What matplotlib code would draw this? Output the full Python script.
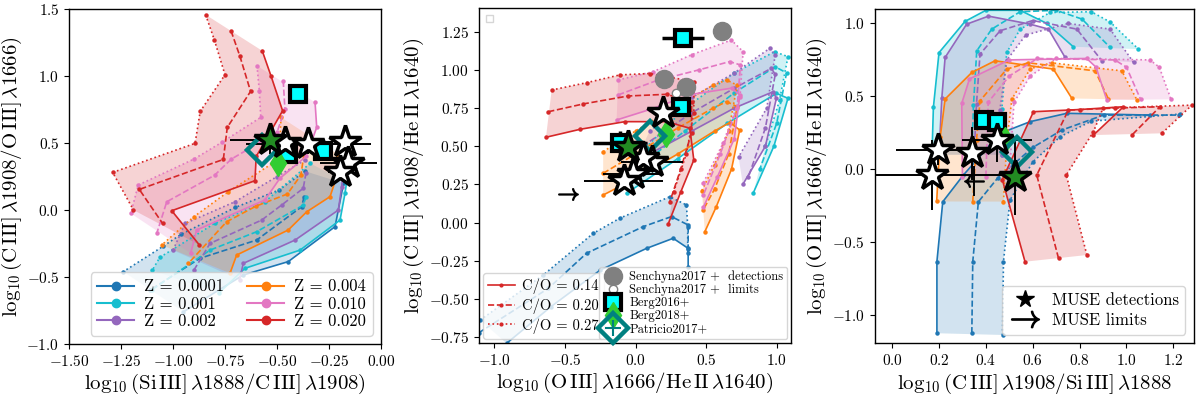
import matplotlib
matplotlib.use('Agg')
import matplotlib.pyplot as plt
from matplotlib.lines import Line2D
from matplotlib.ticker import FuncFormatter, MultipleLocator
import numpy as np

plt.rcParams['mathtext.fontset'] = 'cm'
plt.rcParams['font.family'] = 'serif'
plt.rcParams['font.serif'] = ['DejaVu Serif']

# ---------------- metadata ----------------
Z_LABELS = ['0.0001', '0.001', '0.002', '0.004', '0.010', '0.020']
Z_COLORS = ['tab:blue', 'tab:cyan', 'tab:purple', 'tab:orange', 'tab:pink', 'tab:red']
CO_LABELS = ['0.14', '0.20', '0.27']
CO_STYLES = ['-', '--', ':']

# ---------------- panel 1 model grids: x=SiIII/CIII, y=CIII/OIII ----------------
P1_Z0001 = {'solid': [(-0.18, 0.20), (-0.221, -0.124), (-0.446, -0.385), (-0.662, -0.485), (-0.95, -0.76)],
            'dashed': [(-0.37, 0.10), (-0.381, 0.025), (-0.598, -0.224), (-0.87, -0.36), (-1.11, -0.597)],
            'dotted': [(-0.365, 0.29), (-0.49, 0.15), (-0.70, 0.02), (-0.96, -0.18), (-1.047, -0.27), (-1.239, -0.46)]}
P1_Z001 = {'solid': [(-0.165, 0.21), (-0.173, 0.125), (-0.197, -0.075), (-0.389, -0.299), (-0.654, -0.435), (-0.78, -0.62)],
           'dashed': [(-0.36, 0.10), (-0.374, 0.037), (-0.598, -0.162), (-0.822, -0.299), (-1.103, -0.597)],
           'dotted': [(-0.341, 0.348), (-0.558, 0.062), (-0.80, -0.10), (-1.063, -0.353), (-1.10, -0.45)]}
P1_Z002 = {'solid': [(-0.18, 0.33), (-0.189, 0.174), (-0.205, 0.0), (-0.413, -0.224), (-0.662, -0.398), (-0.68, -0.52)],
           'dashed': [(-0.36, 0.28), (-0.374, 0.162), (-0.478, 0.037), (-0.574, -0.075), (-0.822, -0.249), (-0.90, -0.45)],
           'dotted': [(-0.365, 0.373), (-0.50, 0.25), (-0.702, 0.062), (-0.942, -0.10), (-1.00, -0.30)]}
P1_Z004 = {'solid': [(-0.21, 0.42), (-0.213, 0.249), (-0.245, 0.10), (-0.357, -0.013), (-0.446, -0.149), (-0.694, -0.336), (-0.726, -0.472)],
           'dashed': [(-0.37, 0.42), (-0.385, 0.261), (-0.45, 0.12), (-0.60, 0.03), (-0.742, -0.087), (-0.926, -0.398)],
           'dotted': [(-0.481, 0.692), (-0.486, 0.505), (-0.52, 0.35), (-0.734, 0.137), (-0.90, -0.05), (-1.054, -0.261)]}
P1_Z010 = {'solid': [(-0.317, 0.804), (-0.309, 0.617), (-0.36, 0.40), (-0.486, 0.237), (-0.558, 0.075), (-0.886, -0.149), (-0.915, -0.323)],
           'dashed': [(-0.47, 0.965), (-0.462, 0.754), (-0.50, 0.58), (-0.72, 0.38), (-0.80, 0.26), (-1.03, 0.062), (-1.078, -0.174)],
           'dotted': [(-0.596, 1.077), (-0.585, 0.890), (-0.578, 0.692), (-0.766, 0.505), (-0.90, 0.38), (-1.167, 0.187), (-1.203, -0.025)]}
P1_Z020 = {'solid': [(-0.571, 1.189), (-0.529, 1.002), (-0.473, 0.741), (-0.60, 0.40), (-0.606, 0.219), (-1.006, -0.005), (-0.873, -0.261)],
           'dashed': [(-0.721, 1.338), (-0.678, 1.147), (-0.627, 0.886), (-0.739, 0.617), (-0.758, 0.378), (-1.162, 0.154), (-1.05, -0.10)],
           'dotted': [(-0.843, 1.458), (-0.801, 1.269), (-0.75, 1.010), (-0.869, 0.737), (-0.894, 0.498), (-1.290, 0.281), (-1.19, 0.0)]}

# ---------------- panel 2 model grids: x=OIII/HeII, y=CIII/HeII ----------------
P2_Z0001 = {'solid': [(-0.913, -0.789), (-0.60, -0.55), (-0.25, -0.31), (0.078, -0.168), (0.267, -0.102), (0.373, -0.168), (0.373, -0.29)],
            'dashed': [(-1.11, -0.72), (-0.618, -0.43), (-0.347, -0.20), (0.054, -0.026), (0.255, 0.04), (0.373, -0.015), (0.373, -0.17)],
            'dotted': [(-1.10, -0.637), (-0.653, -0.342), (-0.30, -0.07), (-0.11, 0.03), (0.243, 0.17), (0.361, 0.116), (0.37, -0.03), (0.37, -0.20)]}
P2_Z001 = {'solid': [(-0.063, 0.192), (0.30, 0.42), (0.65, 0.65), (0.998, 0.846), (1.08, 0.814), (0.98, 0.50), (0.833, 0.192)],
           'dashed': [(0.0, 0.35), (0.35, 0.60), (0.70, 0.85), (0.99, 1.02), (1.07, 0.98), (1.00, 0.65), (0.88, 0.35)],
           'dotted': [(0.05, 0.47), (0.35, 0.75), (0.70, 0.98), (0.986, 1.119), (1.08, 1.086), (1.02, 0.80), (0.92, 0.50)]}
P2_Z002 = {'solid': [(0.0, 0.40), (0.40, 0.60), (0.70, 0.75), (0.975, 0.857), (0.998, 0.814), (0.92, 0.50), (0.76, 0.25)],
           'dashed': [(0.05, 0.50), (0.40, 0.72), (0.70, 0.88), (0.962, 1.01), (0.99, 0.97), (0.92, 0.62), (0.80, 0.30)],
           'dotted': [(0.10, 0.60), (0.40, 0.82), (0.70, 0.98), (0.95, 1.14), (0.99, 1.10), (0.93, 0.75), (0.73, 0.43)]}
P2_Z004 = {'solid': [(-0.229, 0.181), (0.0, 0.29), (0.30, 0.45), (0.56, 0.60), (0.668, 0.655), (0.738, 0.607), (0.68, 0.35), (0.57, 0.10), (0.491, -0.059)],
           'dashed': [(-0.229, 0.323), (0.0, 0.45), (0.30, 0.62), (0.55, 0.75), (0.645, 0.792), (0.72, 0.76), (0.66, 0.45), (0.56, 0.22), (0.479, 0.083)],
           'dotted': [(-0.229, 0.465), (0.0, 0.60), (0.30, 0.77), (0.55, 0.90), (0.645, 0.934), (0.72, 0.90), (0.66, 0.60), (0.56, 0.38), (0.47, 0.21)]}
P2_Z010 = {'solid': [(-0.134, 0.672), (0.10, 0.74), (0.40, 0.84), (0.68, 0.88), (0.739, 0.836), (0.70, 0.55), (0.58, 0.30), (0.48, 0.10)],
           'dashed': [(-0.123, 0.836), (0.15, 0.93), (0.45, 1.00), (0.667, 1.054), (0.743, 1.032), (0.72, 0.75), (0.60, 0.45), (0.48, 0.18)],
           'dotted': [(-0.123, 0.934), (0.125, 0.988), (0.40, 1.10), (0.679, 1.195), (0.762, 1.119), (0.74, 0.82), (0.62, 0.52), (0.48, 0.26)]}
P2_Z020 = {'solid': [(-0.634, 0.559), (-0.393, 0.611), (-0.075, 0.661), (0.22, 0.661), (0.385, 0.618), (0.413, 0.41), (0.32, 0.20), (0.231, -0.01)],
           'dashed': [(-0.618, 0.726), (-0.37, 0.777), (-0.052, 0.829), (0.22, 0.84), (0.397, 0.792), (0.397, 0.59), (0.32, 0.35), (0.243, 0.137)],
           'dotted': [(-0.594, 0.868), (-0.346, 0.916), (-0.11, 0.967), (0.10, 0.976), (0.413, 0.923), (0.413, 0.716), (0.36, 0.45), (0.27, 0.20)]}

# ---------------- panel 3 model grids: x=CIII/SiIII, y=OIII/HeII ----------------
P3_Z0001 = {'solid': [(0.191, -1.123), (0.191, -0.632), (0.216, -0.222), (0.304, -0.039), (0.461, 0.247), (0.589, 0.327), (0.745, 0.384), (1.10, 0.372)],
            'dashed': [(0.34, -1.123), (0.344, -0.632), (0.368, -0.222), (0.45, -0.06), (0.60, 0.15), (0.724, 0.269), (0.902, 0.372), (1.222, 0.372)],
            'dotted': [(0.471, -1.135), (0.475, -0.632), (0.503, -0.21), (0.60, 0.05), (0.717, 0.224), (0.85, 0.33), (1.229, 0.379)]}
P3_Z001 = {'solid': [(0.17, 0.10), (0.176, 0.425), (0.20, 0.80), (0.311, 1.014), (0.40, 1.09), (0.546, 1.09), (0.66, 1.0), (0.773, 0.84)],
           'dashed': [(0.34, 0.10), (0.347, 0.44), (0.361, 0.812), (0.425, 0.961), (0.546, 1.08), (0.70, 1.09), (0.81, 1.03), (0.93, 0.836)],
           'dotted': [(0.47, 0.10), (0.468, 0.413), (0.489, 0.801), (0.546, 0.96), (0.674, 1.075), (0.85, 1.08), (0.93, 1.01), (1.051, 0.824)]}
P3_Z002 = {'solid': [(0.20, 0.10), (0.212, 0.49), (0.226, 0.767), (0.318, 0.995), (0.411, 1.05), (0.589, 0.995), (0.667, 0.961), (0.738, 0.767)],
           'dashed': [(0.35, 0.10), (0.36, 0.45), (0.375, 0.79), (0.461, 0.95), (0.60, 1.02), (0.788, 0.961), (0.895, 0.744)],
           'dotted': [(0.47, 0.10), (0.46, 0.41), (0.49, 0.75), (0.57, 0.92), (0.75, 1.00), (0.93, 0.961), (1.03, 0.733)]}
P3_Z004 = {'solid': [(0.19, -0.22), (0.205, 0.22), (0.226, 0.482), (0.34, 0.664), (0.439, 0.744), (0.688, 0.687), (0.767, 0.486)],
           'dashed': [(0.344, -0.221), (0.36, 0.20), (0.375, 0.47), (0.489, 0.687), (0.58, 0.73), (0.866, 0.675), (0.923, 0.482)],
           'dotted': [(0.475, -0.221), (0.49, 0.20), (0.511, 0.482), (0.59, 0.69), (0.68, 0.73), (0.98, 0.675), (1.044, 0.477)]}
P3_Z010 = {'solid': [(0.30, -0.05), (0.297, 0.452), (0.33, 0.62), (0.50, 0.75), (0.83, 0.76), (0.87, 0.70), (0.916, 0.475)],
           'dashed': [(0.40, -0.05), (0.41, 0.46), (0.50, 0.64), (0.62, 0.76), (0.95, 0.75), (1.0, 0.70), (1.06, 0.48)],
           'dotted': [(0.50, -0.05), (0.52, 0.46), (0.59, 0.64), (0.70, 0.76), (1.10, 0.75), (1.14, 0.70), (1.19, 0.48)]}
P3_Z020 = {'solid': [(0.567, -0.633), (0.47, -0.07), (0.603, 0.395), (0.80, 0.41), (0.987, 0.429), (0.859, 0.235)],
           'dashed': [(0.71, -0.61), (0.617, -0.039), (0.752, 0.406), (0.95, 0.42), (1.143, 0.429), (1.023, 0.235)],
           'dotted': [(0.831, -0.587), (0.743, -0.039), (0.859, 0.258), (0.90, 0.42), (1.279, 0.44), (1.151, 0.247)]}

# ---------------- observations ----------------
# MUSE stars (first entry of each is the filled green one)
P1_STAR_X = [-0.534, -0.461, -0.349, -0.173, -0.157, -0.197]
P1_STAR_Y = [0.522, 0.497, 0.490, 0.510, 0.348, 0.286]
P1_STAR_XERR = [0.19, 0.0, 0.30, 0.0, 0.136, 0.06]
P1_STAR_YERR = [0.10, 0.0, 0.07, 0.0, 0.0, 0.0]
P2_STAR_X = [-0.050, 0.196, 0.118, 0.054, -0.017, -0.083]
P2_STAR_Y = [0.498, 0.716, 0.395, 0.421, 0.319, 0.273]
P2_STAR_XERR = [0.0, 0.0, 0.22, 0.0, 0.21, 0.28]
P2_STAR_YERR = [0.0, 0.0, 0.0, 0.0, 0.0, 0.0]
P3_STAR_X = [0.525, 0.195, 0.169, 0.34, 0.446]
P3_STAR_Y = [-0.05, 0.132, -0.039, 0.11, 0.201]
P3_STAR_XERR = [0.0, 0.18, 0.36, 0.0, 0.15]
P3_STAR_YERR = [0.26, 0.10, 0.24, 0.18, 0.15]
P2_LIMIT_X, P2_LIMIT_Y = [-0.48], [0.186]
P3_LIMIT_X, P3_LIMIT_Y, P3_LIMIT_YERR = [0.35], [-0.08], [0.10]

# Berg2016+ squares
P1_BERG16_X = [-0.401, -0.446, -0.280]
P1_BERG16_Y = [0.863, 0.418, 0.443]
P2_BERG16_X = [0.337, 0.325, -0.111]
P2_BERG16_Y = [1.206, 0.755, 0.519]
P2_BERG16_XERR = [0.147, 0.0, 0.19]
P2_BERG16_YERR = [0.0, 0.0, 0.08]
P3_BERG16_X = [0.39, 0.446]
P3_BERG16_Y = [0.338, 0.327]
# Berg2018+ diamond
P1_BERG18 = (-0.494, 0.348)
P2_BERG18 = (0.215, 0.578)
P3_BERG18 = (0.482, 0.200)
# Patricio2017+ diamond
P1_PAT17 = (-0.574, 0.448)
P2_PAT17 = (0.106, 0.569)
P3_PAT17 = (0.532, 0.121)
# Senchyna2017+
SEN_DET_X = [0.616, 0.203, 0.361]
SEN_DET_Y = [1.257, 0.940, 0.886]
SEN_LIM_X = [0.285]
SEN_LIM_Y = [0.847]

STAR_KW = dict(marker='*', ms=24, mfc='white', mec='black', mew=2.5, ls='none', zorder=8)
SQ_KW = dict(marker='s', ms=11, mfc='cyan', mec='black', mew=3, ls='none', zorder=7)
B18_KW = dict(marker='d', ms=13, mfc='limegreen', mec='limegreen', mew=1, ls='none', zorder=7)
PAT_KW = dict(marker='D', ms=15, mfc='none', mec='#008080', mew=3.2, ls='none', zorder=7)
CM = 'cmr10'


def draw_grids(ax, grids):
    for grid, c in zip(grids, Z_COLORS):
        s = np.array(grid['solid'])
        d = np.array(grid['dotted'])
        poly = np.vstack([s, d[::-1]])
        ax.fill(poly[:, 0], poly[:, 1], color=c, alpha=0.2, lw=0, zorder=1)
    for grid, c in zip(grids, Z_COLORS):
        for key, ls in zip(['solid', 'dashed', 'dotted'], CO_STYLES):
            arr = np.array(grid[key])
            ax.plot(arr[:, 0], arr[:, 1], ls=ls, color=c, lw=1.2, marker='o', ms=2.2, zorder=2)


def draw_stars(ax, xs, ys, xerr, yerr):
    ax.errorbar(xs, ys, xerr=xerr, yerr=yerr, fmt='none', ecolor='black', elinewidth=1.4, zorder=6)
    ax.plot(xs[1:], ys[1:], **STAR_KW)
    ax.plot(xs[:1], ys[:1], **dict(STAR_KW, mfc='forestgreen'))


def fmt(dec):
    return FuncFormatter(lambda v, p: ('$%.' + str(dec) + 'f$') % v)


fig = plt.figure(figsize=(12, 3.97), dpi=100)
ax1 = fig.add_axes([0.0575, 0.1335, 0.26, 0.8435])
ax2 = fig.add_axes([0.399, 0.136, 0.26, 0.844])
ax3 = fig.add_axes([0.729, 0.136, 0.2658, 0.841])

LABEL_FS = 15
TICK_FS = 11

# ---- panel 1 ----
draw_grids(ax1, [P1_Z0001, P1_Z001, P1_Z002, P1_Z004, P1_Z010, P1_Z020])
draw_stars(ax1, P1_STAR_X, P1_STAR_Y, P1_STAR_XERR, P1_STAR_YERR)
ax1.plot(P1_BERG16_X, P1_BERG16_Y, **SQ_KW)
ax1.plot(*P1_BERG18, **B18_KW)
ax1.plot(*P1_PAT17, **PAT_KW)
ax1.set_xlim(-1.5, 0.0)
ax1.set_ylim(-1.0, 1.5)
ax1.xaxis.set_major_locator(MultipleLocator(0.25))
ax1.yaxis.set_major_locator(MultipleLocator(0.5))
ax1.xaxis.set_major_formatter(fmt(2))
ax1.yaxis.set_major_formatter(fmt(1))
ax1.set_xlabel(r'$\log_{10}(\mathrm{Si\,III]}\,\lambda1888/\mathrm{C\,III]}\,\lambda1908)$', fontsize=LABEL_FS, labelpad=2)
ax1.set_ylabel(r'$\log_{10}(\mathrm{C\,III]}\,\lambda1908/\mathrm{O\,III]}\,\lambda1666)$', fontsize=LABEL_FS, labelpad=2)
zh = [Line2D([], [], color=c, marker='o', ms=6, lw=1.5) for c in Z_COLORS]
ax1.legend(zh, ['Z = %s' % z for z in Z_LABELS], ncol=2, loc='lower right',
           prop={'family': CM, 'size': 12}, handlelength=2.2, columnspacing=1.4, borderpad=0.4,
           labelspacing=0.12, handletextpad=0.6, framealpha=0.8)

# ---- panel 2 ----
draw_grids(ax2, [P2_Z0001, P2_Z001, P2_Z002, P2_Z004, P2_Z010, P2_Z020])
ax2.plot(SEN_DET_X, SEN_DET_Y, 'o', color='gray', ms=13, zorder=5)
ax2.plot(SEN_LIM_X, SEN_LIM_Y, 'o', mfc='white', mec='gray', ms=6, zorder=5)
ax2.errorbar(P2_BERG16_X, P2_BERG16_Y, xerr=P2_BERG16_XERR, yerr=P2_BERG16_YERR, fmt='none',
             ecolor='black', elinewidth=2.5, zorder=6)
ax2.plot(P2_BERG16_X, P2_BERG16_Y, **SQ_KW)
ax2.plot(*P2_BERG18, **B18_KW)
ax2.plot(*P2_PAT17, **PAT_KW)
draw_stars(ax2, P2_STAR_X, P2_STAR_Y, P2_STAR_XERR, P2_STAR_YERR)
ax2.plot(P2_LIMIT_X, P2_LIMIT_Y, marker=r'$\rightarrow$', ms=14, color='black', ls='none', zorder=8)
ax2.set_xlim(-1.11, 1.10)
ax2.set_ylim(-0.787, 1.405)
ax2.xaxis.set_major_locator(MultipleLocator(0.5))
ax2.yaxis.set_major_locator(MultipleLocator(0.25))
ax2.xaxis.set_major_formatter(fmt(1))
ax2.yaxis.set_major_formatter(fmt(2))
ax2.set_xlabel(r'$\log_{10}(\mathrm{O\,III]}\,\lambda1666/\mathrm{He\,II}\,\lambda1640)$', fontsize=LABEL_FS, labelpad=2)
ax2.set_ylabel(r'$\log_{10}(\mathrm{C\,III]}\,\lambda1908/\mathrm{He\,II}\,\lambda1640)$', fontsize=LABEL_FS, labelpad=2)
empty = ax2.legend(handles=[], loc='upper left', borderpad=0.25, fancybox=False)
ax2.add_artist(empty)
coh = [Line2D([], [], color='tab:red', ls=s, lw=1.2, marker='o', ms=2) for s in CO_STYLES]
leg_co = ax2.legend(coh, ['C/O = %s' % c for c in CO_LABELS], loc='lower left',
                    prop={'family': CM, 'size': 10.5}, handlelength=1.8, borderpad=0.35,
                    labelspacing=0.3, handletextpad=0.5, borderaxespad=0.3)
ax2.add_artist(leg_co)
obs_h = [Line2D([], [], marker='o', color='gray', ms=13, ls='none'),
         Line2D([], [], marker='o', mfc='white', mec='gray', ms=6, ls='none'),
         Line2D([], [], **dict(SQ_KW, zorder=None)),
         Line2D([], [], **dict(B18_KW, zorder=None)),
         (Line2D([], [], **dict(PAT_KW, zorder=None)),
          Line2D([], [], marker='+', ms=12, mew=1.5, color='#008080', ls='none'))]
obs_l = ['Senchyna2017 +  detections', 'Senchyna2017 +  limits',
         'Berg2016+', 'Berg2018+', 'Patricio2017+']
ax2.legend(obs_h, obs_l, loc='lower right', prop={'family': CM, 'size': 9}, borderpad=0.3,
           labelspacing=0.08, handletextpad=0.5, handlelength=1.6, borderaxespad=0.3, framealpha=0.8)

# ---- panel 3 ----
draw_grids(ax3, [P3_Z0001, P3_Z001, P3_Z002, P3_Z004, P3_Z010, P3_Z020])
ax3.plot(P3_BERG16_X, P3_BERG16_Y, **SQ_KW)
ax3.plot(*P3_BERG18, **B18_KW)
ax3.plot(*P3_PAT17, **PAT_KW)
draw_stars(ax3, P3_STAR_X, P3_STAR_Y, P3_STAR_XERR, P3_STAR_YERR)
ax3.errorbar(P3_LIMIT_X, P3_LIMIT_Y, yerr=P3_LIMIT_YERR, fmt='none', ecolor='black', elinewidth=1.4, zorder=6)
ax3.plot(P3_LIMIT_X, P3_LIMIT_Y, marker=r'$\leftarrow$', ms=14, color='black', ls='none', zorder=8)
ax3.set_xlim(-0.074, 1.287)
ax3.set_ylim(-1.19, 1.098)
ax3.xaxis.set_major_locator(MultipleLocator(0.2))
ax3.yaxis.set_major_locator(MultipleLocator(0.5))
ax3.xaxis.set_major_formatter(fmt(1))
ax3.yaxis.set_major_formatter(fmt(1))
ax3.set_xlabel(r'$\log_{10}(\mathrm{C\,III]}\,\lambda1908/\mathrm{Si\,III]}\,\lambda1888$', fontsize=LABEL_FS, labelpad=2)
ax3.set_ylabel(r'$\log_{10}(\mathrm{O\,III]}\,\lambda1666/\mathrm{He\,II}\,\lambda1640)$', fontsize=LABEL_FS, labelpad=2)
mh = [Line2D([], [], marker='*', color='black', ms=13, ls='none'),
      Line2D([], [], marker=r'$\rightarrow$', color='black', ms=20, ls='none')]
ax3.legend(mh, ['MUSE detections', 'MUSE limits'], loc='lower right',
           prop={'family': CM, 'size': 12}, borderpad=0.4, labelspacing=0.3, handletextpad=0.6)

for ax in (ax1, ax2, ax3):
    ax.tick_params(labelsize=TICK_FS, direction='out', length=3.5)
    for sp in ax.spines.values():
        sp.set_linewidth(1.0)

fig.savefig('out.png', dpi=100)
